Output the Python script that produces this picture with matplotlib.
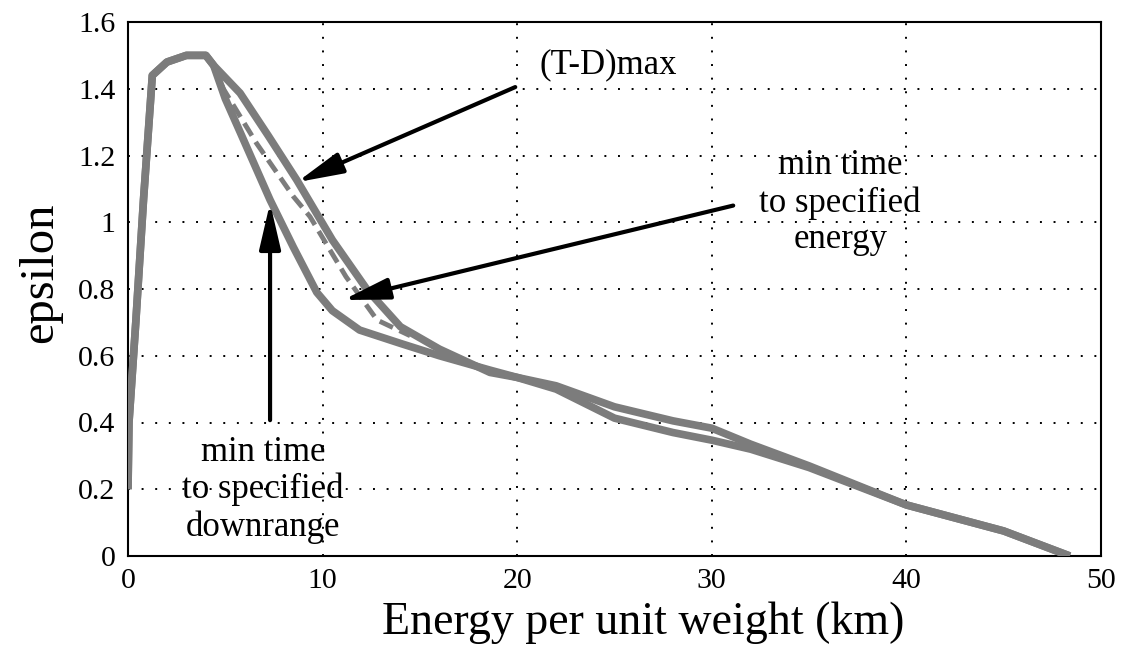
import matplotlib
matplotlib.use("Agg")
import matplotlib.pyplot as plt

# ---- data ----
# min time to specified downrange
x_downrange = [0, 0.05, 0.4, 0.8, 1.25, 2, 3, 4, 4.4, 5.0, 5.8, 7.3, 8.5, 9.7, 10.5,
               11.9, 14, 16, 18.6, 20, 22, 25, 28, 30, 32, 35, 40, 45, 48.4]
y_downrange = [0.2, 0.4, 0.7, 1.07, 1.44, 1.48, 1.5, 1.5, 1.47, 1.37, 1.265, 1.067, 0.925,
               0.79, 0.735, 0.677, 0.637, 0.60, 0.557, 0.535, 0.50, 0.413, 0.37, 0.347,
               0.32, 0.265, 0.153, 0.075, 0.0]

# (T-D)max
x_tdmax = [0, 0.05, 0.4, 0.8, 1.25, 2, 3, 4, 4.4, 5.76, 7.2, 8.67, 10.5, 12.3, 14, 16,
           18.6, 20, 22, 25, 28, 30, 32, 35, 40, 45, 48.4]
y_tdmax = [0.2, 0.4, 0.7, 1.07, 1.44, 1.48, 1.5, 1.5, 1.47, 1.387, 1.26, 1.127, 0.947,
           0.797, 0.687, 0.62, 0.55, 0.535, 0.51, 0.447, 0.405, 0.383, 0.335, 0.27,
           0.153, 0.075, 0.0]

# min time to specified energy (dashed)
x_energy = [4.4, 4.9, 6.6, 8.5, 9.35, 11.2, 12.8, 14.5]
y_energy = [1.47, 1.40, 1.237, 1.077, 1.017, 0.837, 0.707, 0.66]

x_ticks = [0, 10, 20, 30, 40, 50]
x_ticklabels = ["0", "10", "20", "30", "40", "50"]
y_ticks = [0, 0.2, 0.4, 0.6, 0.8, 1.0, 1.2, 1.4, 1.6]
y_ticklabels = ["0", "0.2", "0.4", "0.6", "0.8", "1", "1.2", "1.4", "1.6"]

label_tdmax = "(T-D)max"
label_energy = "min time\nto specified\nenergy"
label_downrange = "min time\nto specified\ndownrange"

plt.rcParams['font.family'] = ['Liberation Serif', 'DejaVu Serif']

fig = plt.figure(figsize=(11.25, 6.59), dpi=100)
ax = fig.add_axes([128/1125, 103/659, (1101-128)/1125, (556-22)/659])

ax.set_xlim(0, 50)
ax.set_ylim(0, 1.6)
ax.set_xticks(x_ticks)
ax.set_xticklabels(x_ticklabels)
ax.set_yticks(y_ticks)
ax.set_yticklabels(y_ticklabels)
ax.tick_params(axis='both', length=0, labelsize=21.5)
ax.tick_params(axis='x', pad=9)
ax.tick_params(axis='y', pad=9)
for s in ax.spines.values():
    s.set_linewidth(1.5)
    s.set_color('black')

ax.grid(True, color='black', linestyle=(0, (1, 6)), linewidth=1.4)
ax.set_axisbelow(True)

curve_color = '#7c7c7c'
ax.plot(x_downrange, y_downrange, color=curve_color, lw=5.5, solid_capstyle='butt',
        solid_joinstyle='round', zorder=3)
ax.plot(x_tdmax, y_tdmax, color=curve_color, lw=5.5, solid_capstyle='butt',
        solid_joinstyle='round', zorder=3)
ax.plot(x_energy, y_energy, color=curve_color, lw=3.5, linestyle=(0, (3, 1.5)), zorder=3)

ax.set_xlabel("Energy per unit weight (km)", fontsize=33)
ax.xaxis.set_label_coords(0.529, -0.086)
ax.set_ylabel("epsilon", fontsize=35)
ax.yaxis.set_label_coords(-0.068, 0.53)

ann_fs = 25
ax.text(21.17, 1.447, label_tdmax, fontsize=ann_fs, ha='left', va='baseline', zorder=5)
ax.text(36.6, 1.058, label_energy, fontsize=ann_fs, ha='center', va='center',
        linespacing=1.15, zorder=5)
ax.text(6.94, 0.198, label_downrange, fontsize=ann_fs, ha='center', va='center',
        linespacing=1.15, zorder=5)

arrow_style = '-|>,head_length=2.8,head_width=0.65'
arrows = [((19.9, 1.405), (8.68, 1.12)),
          ((31.1, 1.05), (11.05, 0.767)),
          ((7.30, 0.407), (7.30, 1.058))]
for tail, head in arrows:
    ax.annotate('', xy=head, xytext=tail,
                arrowprops=dict(arrowstyle=arrow_style, mutation_scale=10, lw=3,
                                color='black', shrinkA=0, shrinkB=0),
                zorder=6)

fig.savefig("out.png", dpi=100)
